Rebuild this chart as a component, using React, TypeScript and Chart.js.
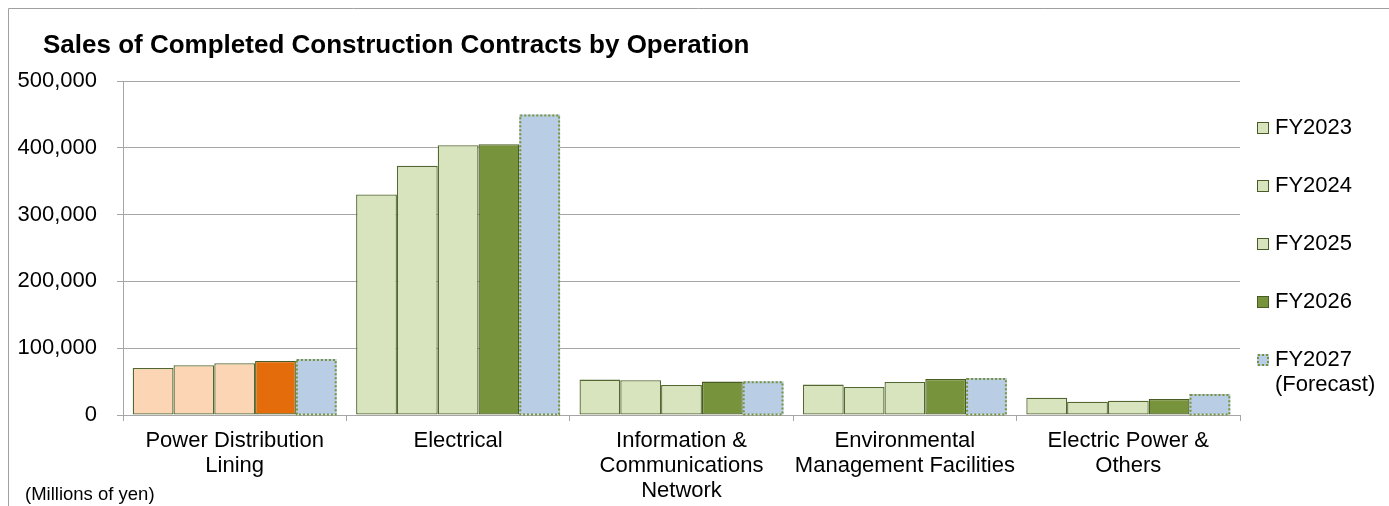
import React, { useEffect, useRef } from 'react';
import { Chart, registerables } from 'chart.js';

Chart.register(...registerables);

const categories: string[][] = [
  ['Power Distribution', 'Lining'],
  ['Electrical'],
  ['Information &', 'Communications', 'Network'],
  ['Environmental', 'Management Facilities'],
  ['Electric Power &', 'Others'],
];

const seriesNames = ['FY2023', 'FY2024', 'FY2025', 'FY2026', 'FY2027 (Forecast)'];
const legendLabels: string[][] = [['FY2023'], ['FY2024'], ['FY2025'], ['FY2026'], ['FY2027', '(Forecast)']];

const fy2023 = [70400, 330000, 53000, 45500, 26000];
const fy2024 = [74400, 373000, 52000, 42000, 20000];
const fy2025 = [77400, 404000, 45000, 49500, 21500];
const fy2026 = [80800, 405500, 50000, 54000, 24000];
const fy2027 = [83800, 450000, 50500, 55500, 31500];

const yMin = 0;
const yMax = 500000;
const yStep = 100000;

const titleText = 'Sales of Completed Construction Contracts by Operation';
const unitText = '(Millions of yen)';

const FONT = '"Liberation Sans", Arial, sans-serif';

const peachLight = '#FCD5B5';
const orange = '#E46C0A';
const greenLight = '#D7E4BD';
const greenDark = '#77933C';
const blueLight = '#B9CDE5';
const borderLight = '#536830';
const borderDark = '#4A5C25';
const dottedColor = '#77933C';
const gridColor = '#A6A6A6';

const seriesValues = [fy2023, fy2024, fy2025, fy2026, fy2027];

function barFill(seriesIdx: number, catIdx: number): string {
  if (seriesIdx === 4) return blueLight;
  if (catIdx === 0) return seriesIdx === 3 ? orange : peachLight;
  return seriesIdx === 3 ? greenDark : greenLight;
}

const decorPlugin = {
  id: 'decor',
  beforeDraw(chart: any) {
    const ctx = chart.ctx as CanvasRenderingContext2D;
    ctx.save();
    ctx.fillStyle = '#ffffff';
    ctx.fillRect(0, 0, chart.width, chart.height);
    ctx.strokeStyle = '#A0A0A0';
    ctx.lineWidth = 1;
    ctx.beginPath();
    ctx.moveTo(8.5, chart.height);
    ctx.lineTo(8.5, 8.5);
    ctx.lineTo(chart.width, 8.5);
    ctx.stroke();
    ctx.fillStyle = '#000';
    ctx.textAlign = 'left';
    ctx.textBaseline = 'alphabetic';
    ctx.font = `bold 26px ${FONT}`;
    ctx.fillText(titleText, 43, 53);
    ctx.font = `18.5px ${FONT}`;
    ctx.fillText(unitText, 25, 500);
    ctx.restore();
  },
  afterDatasetsDraw(chart: any) {
    const ctx = chart.ctx as CanvasRenderingContext2D;
    const meta = chart.getDatasetMeta(4);
    ctx.save();
    ctx.strokeStyle = dottedColor;
    ctx.lineWidth = 2;
    ctx.setLineDash([2, 2]);
    meta.data.forEach((el: any) => {
      const left = el.x - el.width / 2;
      const top = Math.min(el.y, el.base);
      const h = Math.abs(el.base - el.y);
      ctx.strokeRect(left + 1, top + 1, el.width - 2, h - 1);
    });
    ctx.restore();
  },
  afterDraw(chart: any) {
    const ctx = chart.ctx as CanvasRenderingContext2D;
    const area = chart.chartArea;
    const x0 = area.right + 17;
    ctx.save();
    ctx.font = `22px ${FONT}`;
    ctx.textAlign = 'left';
    ctx.textBaseline = 'middle';
    legendLabels.forEach((lines, i) => {
      const y = area.top + 47 + i * 58;
      const fill = i === 4 ? blueLight : i === 3 ? greenDark : greenLight;
      ctx.fillStyle = fill;
      ctx.fillRect(x0, y - 6, 12, 12);
      if (i === 4) {
        ctx.strokeStyle = dottedColor;
        ctx.lineWidth = 2;
        ctx.setLineDash([2, 2]);
        ctx.strokeRect(x0 + 1, y - 5, 10, 10);
        ctx.setLineDash([]);
      } else {
        ctx.strokeStyle = borderDark;
        ctx.lineWidth = 1;
        ctx.strokeRect(x0 + 0.5, y - 5.5, 11, 11);
      }
      ctx.fillStyle = '#000';
      lines.forEach((t, k) => ctx.fillText(t, x0 + 18, y + k * 25));
    });
    ctx.restore();
  },
};

export default function App() {
  const ref = useRef<HTMLCanvasElement>(null);
  useEffect(() => {
    if (!ref.current) return;
    const chart = new Chart(ref.current, {
      type: 'bar',
      data: {
        labels: categories,
        datasets: seriesValues.map((vals, i) => ({
          label: seriesNames[i],
          data: vals,
          backgroundColor: categories.map((_, j) => barFill(i, j)),
          borderColor: i === 3 ? borderDark : borderLight,
          borderWidth: i === 4 ? 0 : 1.3,
          borderSkipped: false,
          categoryPercentage: 0.913,
          barPercentage: 1,
        })),
      },
      options: {
        animation: false,
        responsive: false,
        maintainAspectRatio: false,
        layout: { padding: { top: 81, right: 149, left: 0, bottom: 0 } },
        plugins: {
          legend: { display: false },
          title: { display: false },
          tooltip: { enabled: false },
        },
        scales: {
          x: {
            grid: { display: true, drawOnChartArea: false, offset: true, tickLength: 6, color: gridColor, lineWidth: 1 },
            border: { display: true, color: gridColor },
            ticks: {
              color: '#000',
              font: { family: FONT, size: 22, lineHeight: 1.14 },
              padding: 7,
              maxRotation: 0,
              minRotation: 0,
              autoSkip: false,
            },
            afterFit: (s: any) => {
              s.height = 91;
            },
          },
          y: {
            min: yMin,
            max: yMax,
            grid: { color: gridColor, lineWidth: 1, tickLength: 6 },
            border: { display: true, color: gridColor },
            ticks: {
              stepSize: yStep,
              color: '#000',
              font: { family: FONT, size: 22 },
              padding: 20,
              callback: (v: any) => Number(v).toLocaleString('en-US'),
            },
            afterFit: (s: any) => {
              s.width = 123;
            },
          },
        },
      },
      plugins: [decorPlugin],
    });
    return () => chart.destroy();
  }, []);
  return (
    <div style={{ position: 'fixed', left: 0, top: 0, width: 1389, height: 506, background: '#fff' }}>
      <canvas ref={ref} width={1389} height={506} style={{ display: 'block', width: 1389, height: 506 }} />
    </div>
  );
}
